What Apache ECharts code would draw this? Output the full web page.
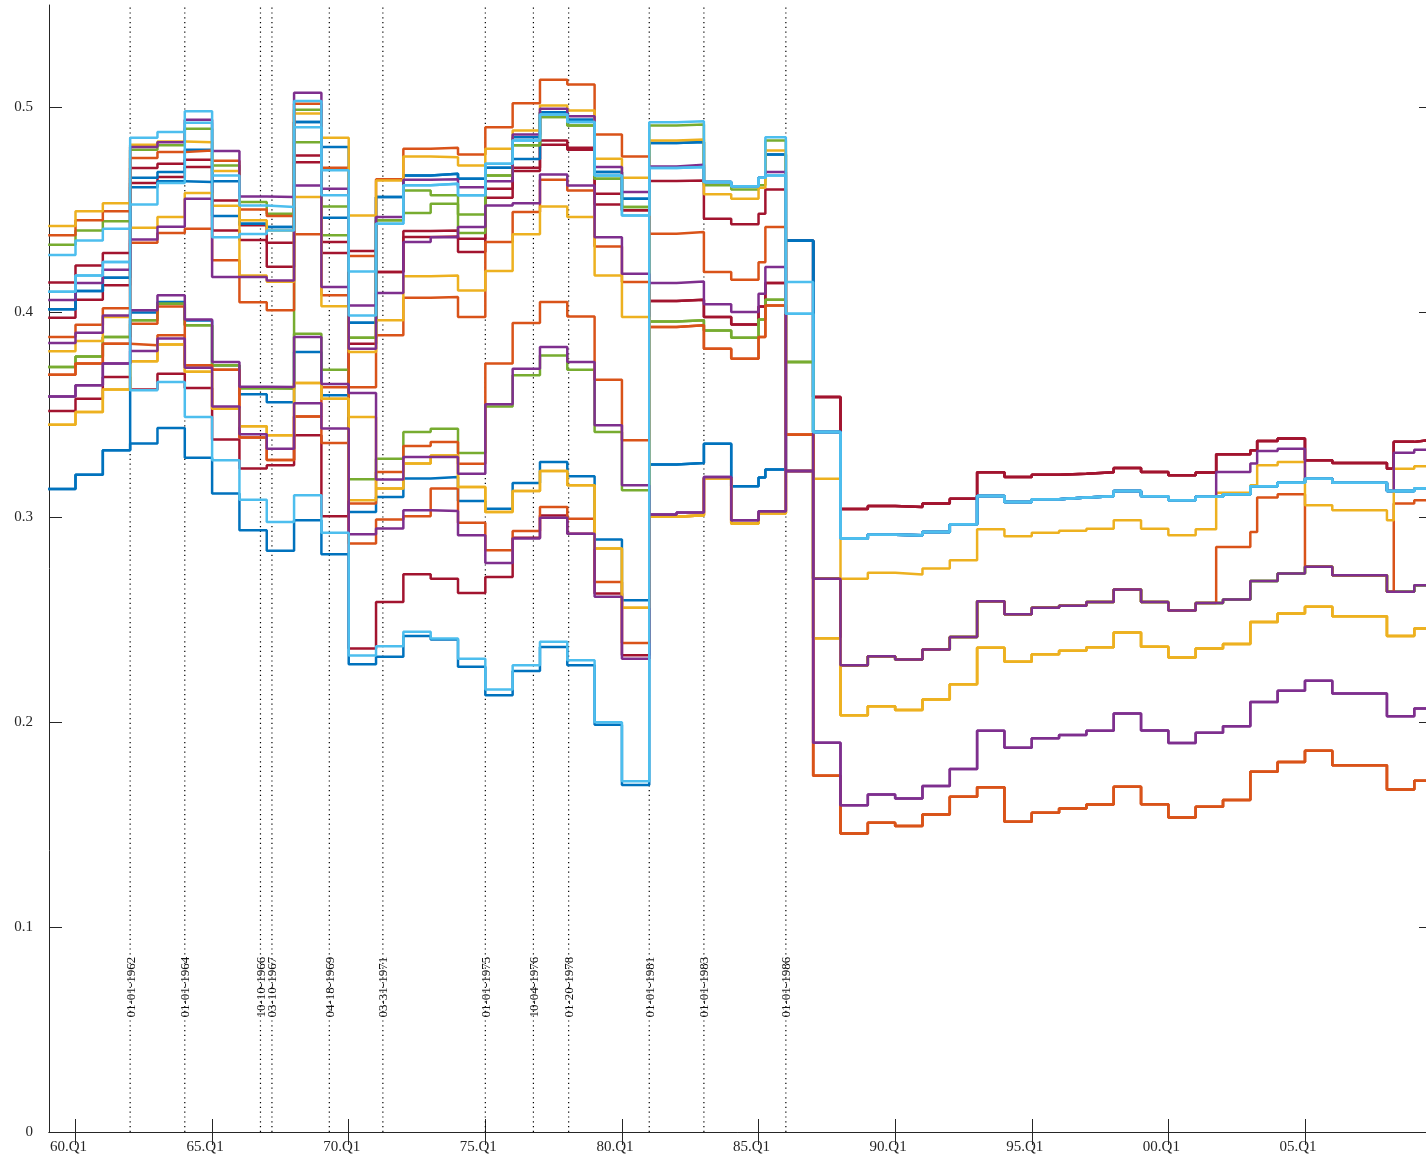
<!DOCTYPE html>
<html>
<head>
<meta charset="utf-8">
<script src="https://cdn.jsdelivr.net/npm/echarts@6.0.0/dist/echarts.min.js"></script>
<style>
html, body { margin: 0; padding: 0; background: #fff; }
#chart { width: 1426px; height: 1161px; }
</style>
</head>
<body>
<div id="chart"></div>
<script>
// step break points (years), shared by every series
const xs = [1959,1960,1961,1962,1963,1964,1965,1966,1967,1968,1969,1970,1971,1972,1973,1974,1975,1976,1977,1978,1979,1980,1981,1982,1983,1984,1985,1985.25,1986,1987,
  1988,1989,1990,1991,1992,1993,1994,1995,1996,1997,1998,1999,2000,2001,2001.75,2002,2003,2003.25,2004,2005,2006,2007,2008,2008.25,2009,2009.5];

// 1959 .. 1987 part of each series
const b1 = [0.4015,0.4104,0.4169,0.4657,0.4685,0.4794,0.464,0.4433,0.4416,0.4929,0.4807,0.3949,0.4563,0.4668,0.4676,0.4652,0.4706,0.4855,0.4977,0.494,0.4685,0.4555,0.4826,0.4831,0.4636,0.4615,0.4657,0.4771,0.435,0.3416];
const b2 = [0.4015,0.4104,0.4169,0.4611,0.464,0.4636,0.447,0.4433,0.4416,0.4929,0.4462,0.3949,0.4563,0.4668,0.4676,0.4652,0.4706,0.4749,0.4977,0.494,0.4685,0.4555,0.4826,0.4831,0.4636,0.4615,0.4657,0.4771,0.435,0.3416];
const b3 = [0.3138,0.3208,0.3327,0.3999,0.4051,0.396,0.3742,0.36,0.3561,0.3806,0.3595,0.3026,0.3099,0.3189,0.3197,0.308,0.3042,0.3167,0.327,0.32,0.2891,0.2595,0.3257,0.3265,0.3359,0.3151,0.3194,0.3233,0.435,0.3416];
const b4 = [0.3138,0.3208,0.3327,0.336,0.3436,0.3291,0.3116,0.2937,0.2837,0.2985,0.2819,0.2283,0.2319,0.242,0.2403,0.227,0.2131,0.225,0.2367,0.2278,0.1988,0.1693,0.3257,0.3265,0.3359,0.3151,0.3194,0.3233,0.435,0.3416];

const o1 = [0.4376,0.445,0.4494,0.4753,0.4782,0.479,0.474,0.4502,0.447,0.5018,0.4706,0.4275,0.465,0.4798,0.4803,0.4771,0.4904,0.5021,0.5135,0.5112,0.4868,0.4761,0.4384,0.4392,0.4197,0.4159,0.4245,0.4416,0.3403,0.1738];
const o2 = [0.388,0.394,0.402,0.434,0.4387,0.4408,0.4254,0.4049,0.401,0.4381,0.4083,0.3634,0.3888,0.4071,0.4075,0.3977,0.4343,0.449,0.4647,0.4595,0.4322,0.4148,0.3928,0.3937,0.3823,0.3774,0.388,0.4034,0.3403,0.1738];
const o3 = [0.3696,0.375,0.3847,0.3945,0.4029,0.3742,0.372,0.3389,0.328,0.3492,0.3634,0.3067,0.3221,0.3348,0.3367,0.3261,0.375,0.3948,0.405,0.398,0.3671,0.3376,0.3928,0.3937,0.3823,0.3774,0.388,0.4034,0.3403,0.27];
const o4 = [0.3696,0.375,0.3847,0.3839,0.3888,0.3742,0.372,0.3389,0.328,0.3492,0.3363,0.2872,0.2989,0.3005,0.314,0.2973,0.2839,0.2933,0.305,0.2993,0.2684,0.2387,0.3002,0.301,0.319,0.297,0.302,0.302,0.3403,0.1738];

const y1 = [0.4421,0.4494,0.4533,0.4818,0.4834,0.483,0.469,0.445,0.44,0.497,0.4852,0.4473,0.4644,0.4761,0.4757,0.4717,0.4798,0.4888,0.501,0.4985,0.475,0.4657,0.4839,0.4844,0.4576,0.4555,0.4608,0.479,0.3226,0.3188];
const y2 = [0.381,0.386,0.3977,0.4413,0.4465,0.4582,0.452,0.418,0.415,0.4563,0.403,0.3806,0.3961,0.4176,0.418,0.4107,0.4202,0.4381,0.4517,0.4465,0.418,0.3977,0.3002,0.301,0.319,0.297,0.302,0.302,0.3226,0.241];
const y3 = [0.3452,0.3514,0.3624,0.3761,0.3843,0.371,0.353,0.3444,0.34,0.3655,0.3579,0.3489,0.314,0.3262,0.3302,0.3148,0.3026,0.3128,0.3226,0.3156,0.2847,0.2559,0.3002,0.301,0.319,0.297,0.302,0.302,0.3226,0.241];
const y4 = [0.3452,0.3514,0.3624,0.3761,0.3843,0.371,0.353,0.3444,0.34,0.3655,0.3579,0.3083,0.314,0.3262,0.3302,0.3148,0.3026,0.3128,0.3226,0.3156,0.2847,0.2559,0.3002,0.301,0.319,0.297,0.302,0.302,0.3226,0.241];

const p1 = [0.406,0.4143,0.4208,0.4807,0.483,0.494,0.4787,0.4566,0.4563,0.5072,0.4603,0.4034,0.4465,0.4647,0.465,0.4611,0.464,0.4868,0.4994,0.4957,0.4709,0.4587,0.4712,0.472,0.4636,0.4615,0.4657,0.4685,0.3226,0.3416];
const p2 = [0.385,0.39,0.3985,0.4355,0.4418,0.4554,0.4172,0.4172,0.4156,0.4619,0.4124,0.3823,0.4095,0.4343,0.4367,0.4416,0.4522,0.4533,0.4673,0.4619,0.4366,0.4188,0.4143,0.4151,0.4039,0.4002,0.4091,0.4221,0.3226,0.19];
const p3 = [0.3589,0.3644,0.375,0.401,0.4083,0.3965,0.3758,0.3637,0.3636,0.388,0.365,0.3607,0.3184,0.3294,0.3294,0.3212,0.3551,0.3725,0.3831,0.3758,0.3449,0.3156,0.3013,0.3023,0.3197,0.2985,0.3029,0.3029,0.3226,0.19];
const p4 = [0.3589,0.3644,0.375,0.3811,0.3872,0.373,0.3541,0.3405,0.3335,0.3557,0.3433,0.2917,0.2945,0.3034,0.3031,0.2912,0.2777,0.2896,0.2998,0.292,0.2612,0.231,0.3013,0.3023,0.3197,0.2985,0.3029,0.3029,0.3226,0.27];

const g1 = [0.433,0.44,0.4445,0.4794,0.4815,0.4896,0.4717,0.4538,0.4481,0.4989,0.4517,0.3876,0.445,0.4595,0.4571,0.4478,0.4668,0.4815,0.4953,0.4912,0.4652,0.4514,0.4912,0.4917,0.462,0.46,0.462,0.4839,0.3758,0.27];
const g2 = [0.3733,0.3785,0.388,0.3961,0.4042,0.3937,0.3742,0.363,0.3628,0.483,0.4376,0.3876,0.445,0.4485,0.453,0.4387,0.4668,0.4815,0.4953,0.4912,0.4652,0.4514,0.3956,0.3961,0.3912,0.3876,0.3965,0.4062,0.3758,0.27];
const g3 = [0.3733,0.3785,0.388,0.3961,0.4042,0.3937,0.3742,0.363,0.3628,0.3896,0.372,0.3185,0.3286,0.3416,0.3432,0.3314,0.3541,0.3693,0.379,0.372,0.3416,0.3132,0.3956,0.3961,0.3912,0.3876,0.3965,0.4062,0.3758,0.27];

const l1 = [0.428,0.4351,0.4408,0.4852,0.488,0.4982,0.4668,0.4522,0.4514,0.5031,0.4693,0.42,0.4433,0.462,0.4628,0.4571,0.4725,0.4839,0.4966,0.4929,0.4668,0.4473,0.4928,0.4933,0.4636,0.4615,0.4657,0.4855,0.4148,0.3416];
const l2 = [0.41,0.418,0.4246,0.4527,0.4631,0.4925,0.4367,0.4383,0.44,0.4904,0.4571,0.3985,0.4433,0.462,0.4628,0.4571,0.4725,0.4839,0.4966,0.4929,0.4668,0.4473,0.4704,0.471,0.4636,0.4615,0.4657,0.4668,0.3993,0.3416];
const l3 = [0.41,0.418,0.4246,0.362,0.366,0.3489,0.3278,0.3086,0.2977,0.3107,0.2925,0.2325,0.2371,0.2441,0.2408,0.231,0.2159,0.2278,0.2392,0.2302,0.2,0.1712,0.4704,0.471,0.4636,0.4615,0.4657,0.4668,0.3993,0.3416];

const r1 = [0.4146,0.4229,0.429,0.4704,0.4725,0.4745,0.4546,0.4425,0.434,0.4766,0.4343,0.43,0.4197,0.4397,0.44,0.4359,0.4603,0.4706,0.4839,0.4803,0.4579,0.4498,0.4641,0.4644,0.4457,0.443,0.4481,0.46,0.435,0.3587];
const r2 = [0.3974,0.4062,0.4132,0.4631,0.466,0.4709,0.44,0.4353,0.4222,0.4733,0.429,0.2359,0.2587,0.2722,0.27,0.263,0.2708,0.29,0.3009,0.292,0.2628,0.2327,0.4055,0.4062,0.3977,0.3941,0.4029,0.4143,0.435,0.3587];
const r3 = [0.3519,0.3579,0.3685,0.3623,0.3701,0.3631,0.3379,0.3238,0.3254,0.34,0.3005,0.3847,0.4197,0.4368,0.437,0.4294,0.4559,0.469,0.4818,0.4793,0.4527,0.4498,0.4055,0.4062,0.3977,0.3941,0.4029,0.4143,0.435,0.3587];

// 1988 .. end, the levels the series share after 1987
const tailR  = [0.304,0.3055,0.305,0.3067,0.309,0.322,0.3197,0.3208,0.3213,0.322,0.3241,0.3221,0.3205,0.3218,0.3307,0.3307,0.3327,0.3372,0.3384,0.3278,0.3265,0.3265,0.3237,0.3368,0.3376,0.3376];
const tailL  = [0.2896,0.2915,0.2912,0.2928,0.2966,0.3104,0.3075,0.3088,0.3096,0.3102,0.3128,0.3102,0.3083,0.31,0.31,0.3112,0.3151,0.3151,0.3168,0.3188,0.3168,0.3168,0.3128,0.3128,0.314,0.314];
const tailP1 = [0.2896,0.2915,0.2912,0.2928,0.2966,0.3104,0.3075,0.3088,0.3096,0.3102,0.3128,0.3102,0.3083,0.31,0.3221,0.3221,0.3262,0.3323,0.3335,0.3188,0.3168,0.3168,0.3128,0.3315,0.333,0.333];
const tailY  = [0.27,0.2729,0.2721,0.275,0.279,0.2941,0.2907,0.2924,0.2934,0.2944,0.2985,0.2944,0.2912,0.2941,0.312,0.312,0.3156,0.3254,0.327,0.3059,0.3034,0.3034,0.2985,0.3237,0.3249,0.3249];
const tailPA = [0.2278,0.2322,0.2306,0.2355,0.2416,0.259,0.2527,0.2558,0.2568,0.2587,0.2647,0.2587,0.2545,0.2582,0.2582,0.2599,0.2689,0.2689,0.2725,0.2758,0.2717,0.2717,0.2636,0.2636,0.2668,0.2668];
const tailO3 = [0.2278,0.2322,0.2306,0.2355,0.2416,0.259,0.2527,0.2558,0.2568,0.2587,0.2647,0.2587,0.2545,0.2582,0.2855,0.2855,0.2928,0.3096,0.3112,0.2758,0.2717,0.2717,0.2636,0.3067,0.3083,0.3083];
const tailYB = [0.2034,0.2078,0.2059,0.2111,0.2185,0.2363,0.2295,0.2332,0.2348,0.2366,0.2438,0.2368,0.2316,0.236,0.236,0.2381,0.2489,0.2489,0.253,0.2563,0.2517,0.2517,0.242,0.242,0.2457,0.2457];
const tailPC = [0.1595,0.1647,0.1628,0.1688,0.1771,0.1958,0.1875,0.1921,0.1937,0.1958,0.2042,0.196,0.1899,0.1948,0.1948,0.198,0.2099,0.2099,0.2153,0.2202,0.214,0.214,0.2029,0.2029,0.2067,0.2067];
const tailOD = [0.1457,0.1509,0.1493,0.155,0.1636,0.1682,0.1514,0.1558,0.1579,0.1598,0.1685,0.16,0.1535,0.1587,0.1587,0.162,0.1758,0.1758,0.1806,0.186,0.179,0.179,0.1672,0.1672,0.1714,0.1714];

// event dates (vertical dotted lines) and their labels
const eventX = [1962.0, 1964.0, 1966.77, 1967.19, 1969.29, 1971.25, 1975.0, 1976.76, 1978.05, 1981.0, 1983.0, 1986.0];
const eventLabels = ['01-01-1962','01-01-1964','10-10-1966','03-10-1967','04-18-1969','03-31-1971','01-01-1975','10-04-1976','01-20-1978','01-01-1981','01-01-1983','01-01-1986'];

const tickYears = [1960,1965,1970,1975,1980,1985,1990,1995,2000,2005];
const tickVals = [0,0.1,0.2,0.3,0.4,0.5];

const C = { b:'#0072BD', o:'#D95319', y:'#EDB120', p:'#7E2F8E', g:'#77AC30', l:'#4DBEEE', r:'#A2142F' };

// drawing order: later entries sit on top
const lines = [
  [r1, tailR, C.r], [r2, tailR, C.r], [r3, tailR, C.r],
  [b1, tailL, C.b], [b2, tailL, C.b], [b3, tailL, C.b], [b4, tailL, C.b],
  [g1, tailPA, C.g], [g2, tailPA, C.g], [g3, tailPA, C.g],
  [o1, tailOD, C.o], [o2, tailOD, C.o], [o3, tailO3, C.o], [o4, tailOD, C.o],
  [y1, tailY, C.y], [y2, tailYB, C.y], [y3, tailYB, C.y], [y4, tailYB, C.y],
  [p1, tailP1, C.p], [p2, tailPC, C.p], [p3, tailPC, C.p], [p4, tailPA, C.p],
  [l1, tailL, C.l], [l2, tailL, C.l], [l3, tailL, C.l]
];

const FONT = '"Liberation Serif", "DejaVu Serif", serif';
const AX = '#262626';

const series = lines.map(function (d) {
  const vals = d[0].concat(d[1]);
  return {
    type: 'line',
    step: 'end',
    showSymbol: false,
    silent: true,
    lineStyle: { color: d[2], width: 2.5 },
    itemStyle: { color: d[2] },
    data: xs.map(function (x, i) { return [x, vals[i]]; })
  };
});

series.push({
  type: 'custom',
  silent: true,
  data: eventX.map(function (x) { return [x, 0]; }),
  encode: { x: 0, y: 1 },
  renderItem: function (params, api) {
    const x = api.value(0);
    const p0 = api.coord([x, 0]);
    const p1 = api.coord([x, 0.55]);
    const pl = api.coord([x, 0.0707]);
    return {
      type: 'group',
      children: [
        { type: 'line', shape: { x1: p0[0], y1: p0[1], x2: p1[0], y2: p1[1] },
          style: { stroke: '#000', lineWidth: 1.2, lineDash: [1.2, 3.6] } },
        { type: 'text', x: pl[0] + 1, y: pl[1], rotation: Math.PI / 2,
          style: { text: eventLabels[params.dataIndex], fill: '#111', font: '13px ' + FONT,
                   align: 'center', verticalAlign: 'middle' } }
      ]
    };
  }
});

const chart = echarts.init(document.getElementById('chart'));
chart.setOption({
  animation: false,
  backgroundColor: '#fff',
  grid: { left: 49, right: 0, top: 5, bottom: 29, containLabel: false },
  xAxis: [{
    type: 'value', min: 1959.03, max: 2009.43, position: 'bottom',
    axisLine: { show: true, lineStyle: { color: AX, width: 1 } },
    axisTick: { show: true, inside: true, length: 13, customValues: tickYears, lineStyle: { color: AX } },
    axisLabel: { customValues: tickYears, margin: 8, color: AX, fontFamily: FONT, fontSize: 15,
      padding: [0, 14, 0, 0],
      formatter: function (v) { return String(Math.round(v) % 100).padStart(2, '0') + '.Q1'; } },
    splitLine: { show: false }
  }, {
    type: 'value', min: 1959.03, max: 2009.43, position: 'top',
    axisLine: { show: true, lineStyle: { color: AX, width: 1 } },
    axisTick: { show: true, inside: true, length: 13, customValues: tickYears, lineStyle: { color: AX } },
    axisLabel: { show: false },
    splitLine: { show: false }
  }],
  yAxis: [{
    type: 'value', min: 0, max: 0.55, position: 'left',
    axisLine: { show: true, lineStyle: { color: AX, width: 1 } },
    axisTick: { show: true, inside: true, length: 13, customValues: tickVals, lineStyle: { color: AX } },
    axisLabel: { customValues: tickVals, margin: 16, color: AX, fontFamily: FONT, fontSize: 15,
      formatter: function (v) { return v === 0 ? '0' : v.toFixed(1); } },
    splitLine: { show: false }
  }, {
    type: 'value', min: 0, max: 0.55, position: 'right',
    axisLine: { show: false },
    axisTick: { show: true, inside: true, length: 7, customValues: tickVals, lineStyle: { color: AX } },
    axisLabel: { show: false },
    splitLine: { show: false }
  }],
  series: series
});
</script>
</body>
</html>
